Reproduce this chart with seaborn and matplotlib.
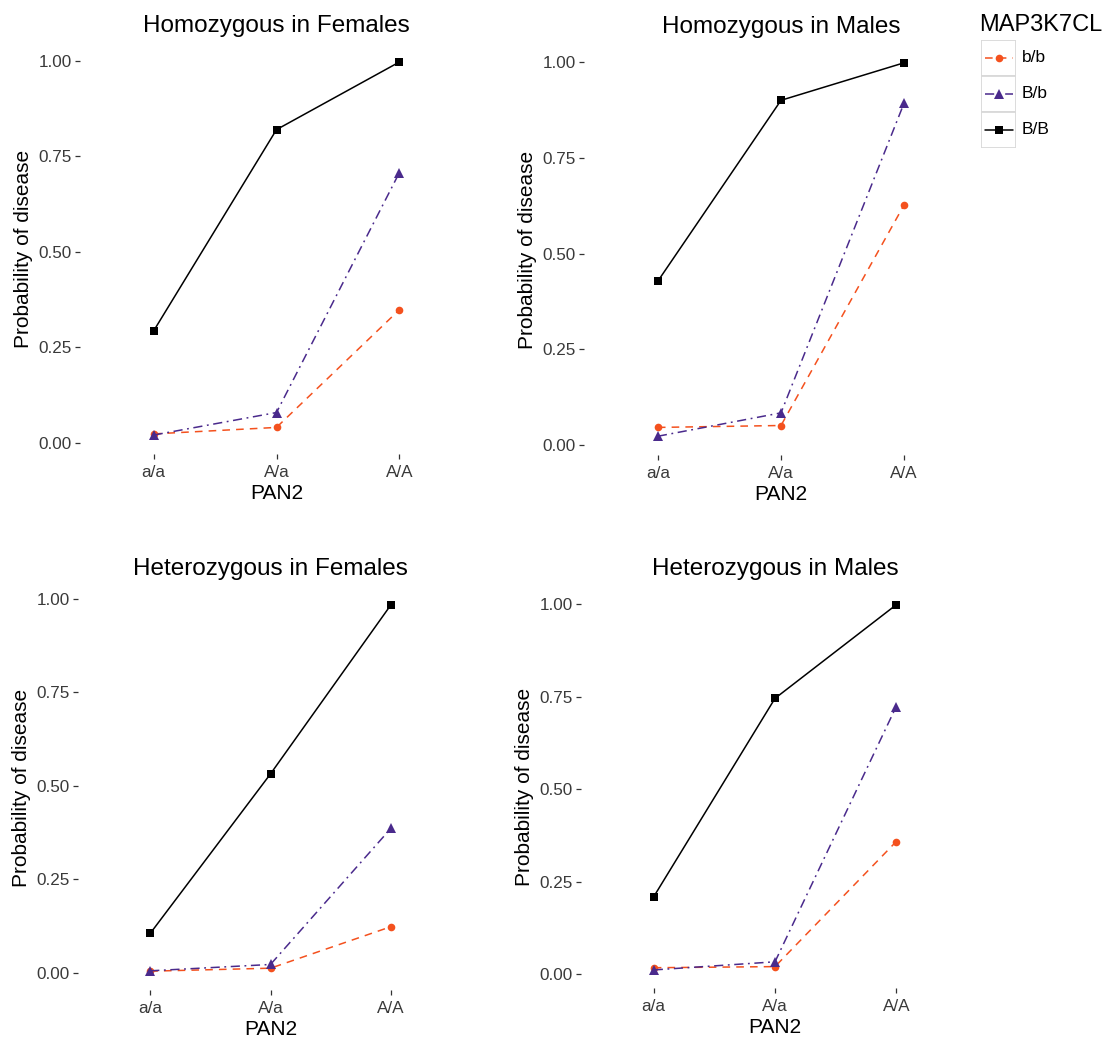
import pandas as pd
import matplotlib
matplotlib.use("Agg")
import matplotlib.pyplot as plt
import seaborn as sns
from matplotlib.lines import Line2D
from matplotlib.patches import Rectangle

# ==============================
# DATOS
# ==============================

pan2 = ["a/a", "A/a", "A/A"]
genotipos = ["b/b", "B/b", "B/B"]

titulos = ["Homozygous in Females", "Homozygous in Males",
           "Heterozygous in Females", "Heterozygous in Males"]

hom_f_bb = [0.023, 0.040, 0.348]
hom_f_Bb = [0.020, 0.079, 0.707]
hom_f_BB = [0.293, 0.820, 0.997]

hom_m_bb = [0.046, 0.051, 0.627]
hom_m_Bb = [0.023, 0.084, 0.893]
hom_m_BB = [0.428, 0.900, 0.998]

het_f_bb = [0.004, 0.012, 0.123]
het_f_Bb = [0.005, 0.022, 0.386]
het_f_BB = [0.105, 0.532, 0.984]

het_m_bb = [0.017, 0.020, 0.358]
het_m_Bb = [0.011, 0.033, 0.723]
het_m_BB = [0.209, 0.745, 0.998]

series = [
    (hom_f_bb, hom_f_Bb, hom_f_BB),
    (hom_m_bb, hom_m_Bb, hom_m_BB),
    (het_f_bb, het_f_Bb, het_f_BB),
    (het_m_bb, het_m_Bb, het_m_BB),
]

# ==============================
# ESTILO
# ==============================

sns.set_theme(style="white")
plt.rcParams["font.family"] = ["Liberation Sans", "DejaVu Sans"]

paleta = {"b/b": "#F4511E", "B/b": "#4A2A8C", "B/B": "#000000"}
marcadores = {"b/b": "o", "B/b": "^", "B/B": "s"}
guiones = {"b/b": (5, 4), "B/b": (6, 3, 1.2, 3), "B/B": ""}
tam_marc = {"b/b": 5.5, "B/b": 6.5, "B/B": 6}

W, H = 1112, 1038
# cajas de los paneles en pixeles: izquierda, derecha, arriba, abajo
cajas = [(80, 473, 43.4, 453.7), (584, 978, 44.1, 454.9),
         (78, 463, 586.7, 989.5), (581, 969, 586.5, 988.2)]

fig = plt.figure(figsize=(W / 100, H / 100), dpi=100)
fig.patch.set_facecolor("white")

for titulo, datos, (l, r, t, b) in zip(titulos, series, cajas):
    ax = fig.add_axes([l / W, 1 - b / H, (r - l) / W, (b - t) / H])
    filas = []
    for g, vals in zip(genotipos, datos):
        for i, v in enumerate(vals):
            filas.append({"pos": i, "PAN2": pan2[i], "MAP3K7CL": g, "prob": v})
    df = pd.DataFrame(filas)

    for g in genotipos:
        sub = df[df["MAP3K7CL"] == g]
        sns.lineplot(data=sub, x="pos", y="prob", color=paleta[g],
                     marker=marcadores[g], markersize=tam_marc[g],
                     markeredgewidth=0, linewidth=1.1, legend=False, ax=ax)
        if guiones[g]:
            ax.lines[-1].set_dashes(guiones[g])

    lo, hi = df["prob"].min(), df["prob"].max()
    rango = hi - lo
    ax.set_ylim(lo - 0.05 * rango, hi + 0.05 * rango)
    ax.set_xlim(-0.6, len(pan2) - 1 + 0.6)
    ax.set_xticks(range(len(pan2)))
    ax.set_xticklabels(pan2)
    ax.set_yticks([0, 0.25, 0.5, 0.75, 1.0])
    ax.set_yticklabels(["0.00", "0.25", "0.50", "0.75", "1.00"])
    for s in ax.spines.values():
        s.set_visible(False)
    ax.set_facecolor("white")
    ax.tick_params(axis="both", length=3.5, width=0.9, color="#333333",
                   labelcolor="#3A3A3A", labelsize=12.3,
                   bottom=True, left=True)
    ax.tick_params(axis="x", pad=4.5)
    ax.tick_params(axis="y", pad=2.5)
    ax.set_xlabel("PAN2", fontsize=15, color="black", labelpad=3)
    ax.set_ylabel("Probability of disease", fontsize=15, color="black", labelpad=4)
    ax.set_title(titulo, fontsize=17.5, color="black", pad=8.3)

# ==============================
# LEYENDA
# ==============================

lx0, lx1, ly0, ly1 = 981, 1016, 40, 148
lax = fig.add_axes([lx0 / W, 1 - ly1 / H, (lx1 - lx0) / W, (ly1 - ly0) / H])
lax.set_xlim(0, 1)
lax.set_ylim(0, 3)
lax.axis("off")
for k, g in enumerate(genotipos):
    y0 = 2 - k
    lax.add_patch(Rectangle((0, y0), 1, 1, facecolor="white",
                            edgecolor="#D9D9D9", linewidth=1.3))
    linea = Line2D([0.1, 0.9], [y0 + 0.5, y0 + 0.5], color=paleta[g],
                   linewidth=1.1)
    if guiones[g]:
        linea.set_dashes(guiones[g])
    lax.add_line(linea)
    lax.plot([0.5], [y0 + 0.5], marker=marcadores[g], color=paleta[g],
             markersize=tam_marc[g], markeredgewidth=0, linestyle="none")
    fig.text((lx1 + 6) / W, 1 - (ly0 + (k + 0.5) * (ly1 - ly0) / 3) / H, g,
             fontsize=12.5, color="black", va="center", ha="left")

fig.text(979 / W, 1 - 31 / H, "MAP3K7CL", fontsize=17, color="black",
         ha="left", va="baseline")

fig.savefig("out.png", dpi=100, facecolor="white")
